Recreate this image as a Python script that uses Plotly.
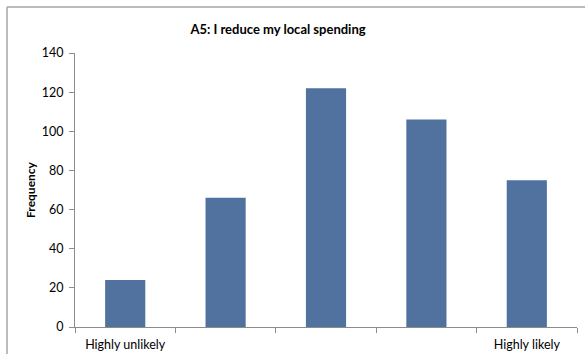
import plotly.graph_objects as go

# Responses on a 5-point scale
scale_points = [1, 2, 3, 4, 5]
scale_labels = ["Highly unlikely", "", "", "", "Highly likely"]
frequency = [24, 66, 122, 106, 75]

y_ticks = [0, 20, 40, 60, 80, 100, 120, 140]

W, H = 585, 354
ML, MR, MT, MB = 75, 8, 53, 27
pw, ph = W - ML - MR, H - MT - MB

FONT = "Lato, Carlito, Calibri, sans-serif"
AXIS_GREY = "#8c8c8c"
FRAME_GREY = "#a6a6a6"

fig = go.Figure(
    go.Bar(
        x=scale_points,
        y=frequency,
        width=0.4,
        marker=dict(color="#51729e", line=dict(width=0)),
        hoverinfo="x+y",
    )
)

# outer chart frame: left and top edges (the rest runs off the page)
fx0 = (7 - ML) / pw
fy1 = 1 + (MT - 7) / ph
fig.add_shape(type="line", xref="paper", yref="paper",
              x0=fx0, x1=fx0, y0=-(MB + 5) / ph, y1=fy1,
              line=dict(color=FRAME_GREY, width=1.5), layer="below")
fig.add_shape(type="line", xref="paper", yref="paper",
              x0=fx0, x1=1 + (MR + 5) / pw, y0=fy1, y1=fy1,
              line=dict(color=FRAME_GREY, width=1.5), layer="below")

fig.update_layout(
    width=W, height=H,
    margin=dict(l=ML, r=MR, t=MT, b=MB, autoexpand=False),
    paper_bgcolor="white", plot_bgcolor="white",
    showlegend=False,
    font=dict(family=FONT, color="#000", size=12),
    title=dict(text="<b>A5: I reduce my local spending</b>",
               x=278 / W, xref="container", xanchor="center",
               y=1 - 29 / H, yref="container", yanchor="middle",
               font=dict(size=13, color="#000")),
    xaxis=dict(
        range=[0.5, 5.5],
        tickvals=scale_points, ticktext=scale_labels,
        ticks="", showgrid=False, zeroline=False,
        showline=True, linecolor=AXIS_GREY, linewidth=1,
        tickfont=dict(size=12.5),
        ticklabelstandoff=6,
        automargin=False,
        minor=dict(tickvals=[0.5, 1.5, 2.5, 3.5, 4.5, 5.5],
                   ticks="outside", ticklen=5, tickcolor=AXIS_GREY, showgrid=False),
        fixedrange=True,
    ),
    yaxis=dict(
        range=[0, 140],
        tickvals=y_ticks,
        ticks="outside", ticklen=5, tickcolor=AXIS_GREY,
        showgrid=False, zeroline=False,
        showline=True, linecolor=AXIS_GREY, linewidth=1,
        tickfont=dict(size=12.5),
        ticklabelstandoff=3,
        automargin=False,
        title=dict(text="<b>Frequency</b>", font=dict(size=12), standoff=3),
        fixedrange=True,
    ),
)

# keep the page itself from adding scroll bars around the fixed-size figure
page_css = (
    "document.documentElement.style.overflow='hidden';"
    "document.body.style.margin='0';"
    "document.body.style.overflow='hidden';"
)

fig.write_html("out.html", config={"displayModeBar": False}, post_script=page_css)
